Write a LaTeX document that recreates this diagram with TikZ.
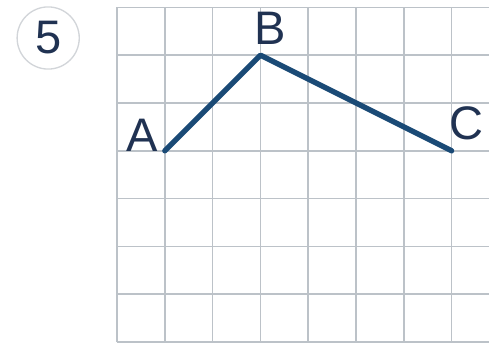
\documentclass[tikz,border=0pt]{standalone}
\usepackage{fontspec}
\setmainfont{Liberation Sans}
\usetikzlibrary{positioning}
\definecolor{gridgrey}{RGB}{188,194,200}
\definecolor{pathblue}{RGB}{26,74,118}
\definecolor{labelnavy}{RGB}{32,50,82}
\definecolor{ringgrey}{RGB}{210,213,217}

\begin{document}
\begin{tikzpicture}[
  gridline/.style={draw=gridgrey,line width=0.9pt},
  route/.style={draw=pathblue,line width=3.2pt,line cap=round,line join=round},
  ptlabel/.style={font=\fontsize{28}{30}\selectfont,text=labelnavy,inner sep=0pt},
  badge/.style={circle,draw=ringgrey,line width=0.8pt,minimum size=1.3cm,inner sep=0pt,
     font=\fontsize{28}{30}\selectfont,text=labelnavy}
]
\useasboundingbox (-2.448,-0.126) rectangle (7.782,7.155);
% squared paper
\foreach \x in {0,...,7} \draw[gridline] (\x,0) -- (\x,7);
\foreach \y in {0,...,7} \draw[gridline] (0,\y) -- (7.782,\y);
% exercise number
\node[badge] (num) at (-1.44,6.36) {5};
% points and labels
\coordinate (A) at (1,4);
\coordinate (B) at (3,6);
\coordinate (C) at (7,4);
\node[ptlabel] (labA) at (0.52,4.33) {A};
\node[ptlabel] (labB) at (3.2,6.57) {B};
\node[ptlabel] (labC) at (7.32,4.58) {C};
\draw[route] (A) -- (B) -- (C);
\end{tikzpicture}
\end{document}
